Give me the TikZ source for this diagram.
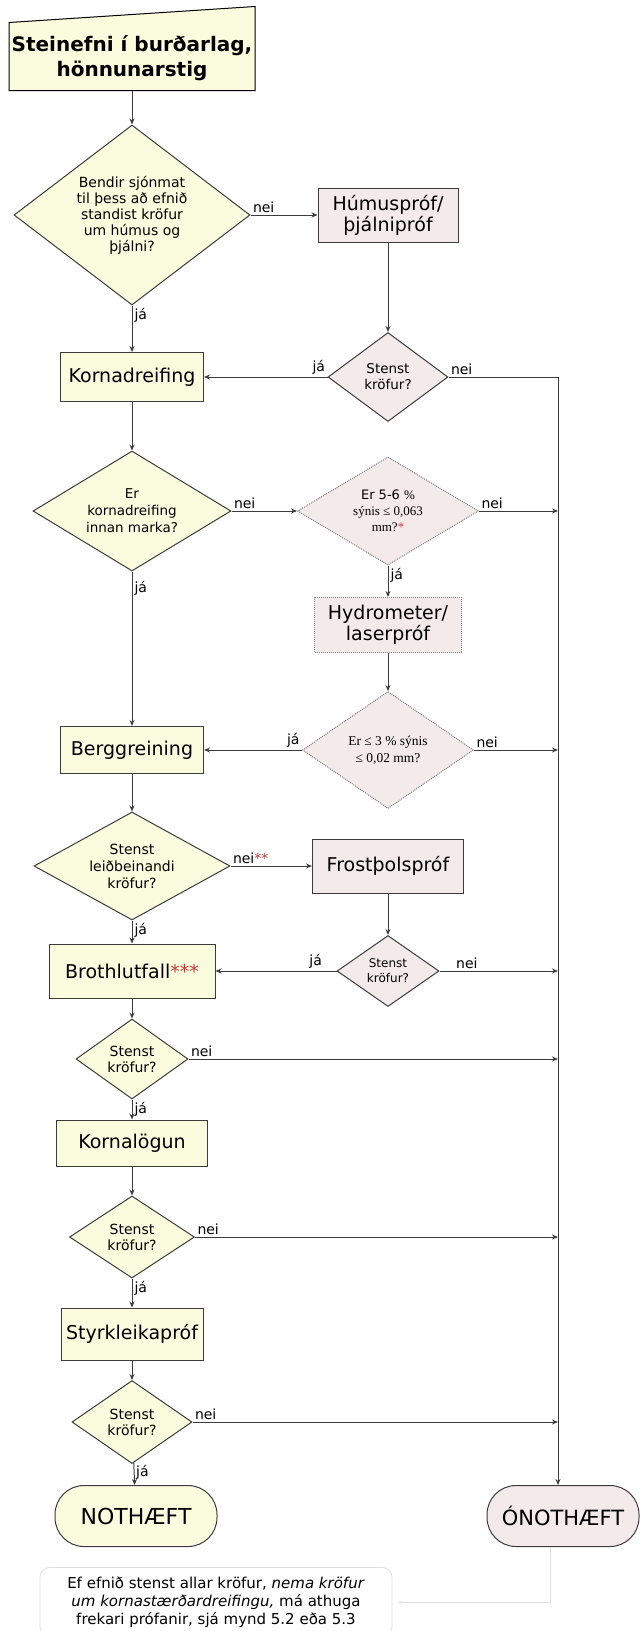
\documentclass[tikz,border=0pt]{standalone}
\usepackage{fontspec}
\setmainfont{DejaVu Sans}
\newfontfamily\tnr{Liberation Serif}
\usetikzlibrary{shapes.geometric,arrows.meta,backgrounds}

\definecolor{gulur}{RGB}{251,251,221}
\definecolor{bleikur}{RGB}{244,234,234}
\definecolor{lina}{RGB}{60,60,60}
\definecolor{stjarna}{RGB}{205,55,55}

\begin{document}
\begin{tikzpicture}[-{Stealth[length=6pt,width=5pt]}, line width=1pt, color=lina, text=black, x=1pt, y=-1pt,
    box/.style={draw, fill=gulur, inner sep=0pt, align=center, font=\fontsize{19}{21}\selectfont},
    pbox/.style={box, fill=bleikur},
    q/.style={diamond, draw, fill=gulur, inner sep=0pt, align=center, font=\fontsize{14}{16}\selectfont},
    pq/.style={q, fill=bleikur},
    dots/.style={densely dotted, draw=gray},
    endbox/.style={box, rounded corners=29pt, minimum height=61, font=\fontsize{22}{24}\selectfont},
    lbl/.style={inner sep=2pt, font=\fontsize{14}{16}\selectfont}]

    \useasboundingbox (0,0) rectangle (641,1631);

    % left column
    \node[box, draw=none, fill=none, font=\bfseries\fontsize{20}{25}\selectfont, minimum width=245, minimum height=64] (top) at (132,58) {Steinefni í burðarlag,\\hönnunarstig};
    \node[q, aspect=1.3, minimum width=236, minimum height=180] (d1) at (132,215) {Bendir sjónmat\\til þess að efnið\\standist kröfur\\um húmus og\\þjálni?};
    \node[box, minimum width=143, minimum height=49] (korn) at (132,377) {Kornadreifing};
    \node[q, aspect=1.65, minimum width=198, minimum height=120, font=\fontsize{13.5}{17}\selectfont] (d3) at (132,511) {Er\\kornadreifing\\innan marka?};
    \node[box, minimum width=143, minimum height=47] (berg) at (132,750) {Berggreining};
    \node[q, aspect=1.8, minimum width=196, minimum height=108, font=\fontsize{14}{17}\selectfont] (d6) at (132,866) {Stenst\\leiðbeinandi\\kröfur?};
    \node[box, minimum width=166, minimum height=54] (broth) at (132,971) {Brothlutfall\textcolor{stjarna}{***}};
    \node[q, aspect=1.4, minimum width=112, minimum height=80] (d8) at (132,1059) {Stenst\\kröfur?};
    \node[box, minimum width=151, minimum height=46] (logun) at (132,1143) {Kornalögun};
    \node[q, aspect=1.5, minimum width=125, minimum height=82] (d9) at (132,1237) {Stenst\\kröfur?};
    \node[box, minimum width=142, minimum height=52] (styrk) at (132,1334) {Styrkleikapróf};
    \node[q, aspect=1.45, minimum width=120, minimum height=83] (d10) at (132,1422) {Stenst\\kröfur?};
    \node[endbox, minimum width=162] (ok) at (136,1516) {NOTHÆFT};

    % right column
    \node[pbox, minimum width=140, minimum height=54] (hum) at (388,215) {Húmuspróf/\\þjálnipróf};
    \node[pq, aspect=1.35, minimum width=120, minimum height=89, font=\fontsize{13.5}{16}\selectfont] (d2) at (388,377) {Stenst\\kröfur?};
    \node[pq, dots, aspect=1.68, minimum width=181, minimum height=108, font=\fontsize{13}{16}\selectfont] (d4) at (388,511) {Er 5-6 {\tnr\%}\\{\tnr sýnis ≤ 0,063}\\{\tnr mm?\textcolor{stjarna}{*}}};
    \node[pbox, dots, minimum width=147, minimum height=55] (hyd) at (388,625) {Hydrometer/\\laserpróf};
    \node[pq, dots, aspect=1.46, minimum width=171, minimum height=117, font=\tnr\fontsize{13.5}{17}\selectfont] (d5) at (388,750) {Er ≤ 3 \% sýnis\\≤ 0,02 mm?};
    \node[pbox, minimum width=151, minimum height=54] (frost) at (388,866) {Frostþolspróf};
    \node[pq, aspect=1.44, minimum width=102, minimum height=71, font=\fontsize{12}{15}\selectfont] (d7) at (388,971) {Stenst\\kröfur?};
    \node[endbox, fill=bleikur, minimum width=152, font=\fontsize{21}{24}\selectfont] (nok) at (563,1516) {ÓNOTHÆFT};
    \coordinate (rl) at (558,1485);

    \node[draw=gray!25, line width=0.8pt, rounded corners=10pt, align=center, inner sep=0pt, minimum width=352, minimum height=70, anchor=north, font=\fontsize{15}{18}\selectfont] (note) at (216,1567) {Ef efnið stenst allar kröfur, \textit{nema kröfur}\\\textit{um kornastærðardreifingu,} má athuga\\frekari prófanir, sjá mynd 5.2 eða 5.3};

    \begin{scope}[on background layer]
        \draw[-, line width=1pt, fill=gulur] (top.south west) -- ([yshift=3pt]top.north west) -- ([yshift=19pt]top.north east) -- (top.south east) -- cycle;
    \end{scope}

    \path
        (top) edge (d1)
        (d1) edge node[lbl, pos=0, above right] {nei} (hum)
        (d1) edge node[lbl, pos=0, below right] {já} (korn)
        (hum) edge (d2)
        (d2) edge node[lbl, pos=0, above left] {já} (korn)
        (korn) edge (d3)
        (d3) edge node[lbl, pos=0, above right] {nei} (d4)
        (d3) edge node[lbl, pos=0.05, below right] {já} (berg)
        (d4) edge node[lbl, pos=0, below right] {já} (hyd)
        (hyd) edge (d5)
        (d5) edge node[lbl, pos=0, above left] {já} (berg)
        (berg) edge (d6)
        (d6) edge node[lbl, pos=0, above right] {nei\textcolor{stjarna}{**}} (frost)
        (d6) edge node[lbl, pos=0, below right] {já} (broth)
        (frost) edge (d7)
        (d7) edge node[lbl, pos=0.1, above left] {já} (broth)
        (broth) edge (d8)
        (d8) edge node[lbl, pos=0, below right] {já} (logun)
        (logun) edge (d9)
        (d9) edge node[lbl, pos=0, below right] {já} (styrk)
        (styrk) edge (d10)
        (d10) edge node[lbl, pos=0, below right] {já} (ok)
        ;

    % nei to the right
    \draw (d2) -- node[lbl, pos=0, above right] {nei} (d2 -| rl) -- (rl);
    \draw (d4) -- node[lbl, pos=0, above right] {nei} (d4 -| rl);
    \draw (d5) -- node[lbl, pos=0, above right] {nei} (d5 -| rl);
    \draw (d7) -- node[lbl, pos=0.12, above right] {nei} (d7 -| rl);
    \draw (d8) -- node[lbl, pos=0, above right] {nei} (d8 -| rl);
    \draw (d9) -- node[lbl, pos=0, above right] {nei} (d9 -| rl);
    \draw (d10) -- node[lbl, pos=0, above right] {nei} (d10 -| rl);

    \draw[gray!25, line width=0.8pt, -{Stealth[length=4pt,width=3pt]}, shorten >=6pt] ([xshift=-13pt]nok.south) |- (note.east);
\end{tikzpicture}
\end{document}
